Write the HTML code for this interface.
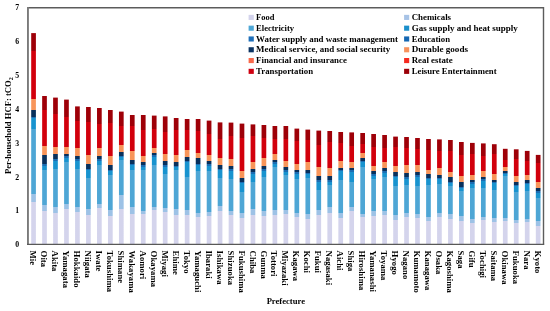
<!DOCTYPE html>
<html><head><meta charset="utf-8"><style>
html,body{margin:0;padding:0;background:#fff;}
body{width:550px;height:311px;overflow:hidden;position:relative;}
svg{position:absolute;left:0;top:0;will-change:transform;filter:blur(0.25px);}
text{font-family:"Liberation Serif",serif;font-weight:bold;fill:#000;}
.xl{font-size:8.75px;}
.yt{font-size:7.8px;text-anchor:end;}
.lg{font-size:8.9px;}
.tt{font-size:8.6px;}
</style></head><body>
<svg width="550" height="311" viewBox="0 0 550 311">
<rect x="0" y="0" width="550" height="311" fill="#fff"/>
<linearGradient id="g0" gradientUnits="userSpaceOnUse" x1="0" y1="33.10" x2="0" y2="244.4"><stop offset="0.00000" stop-color="#9e0008"/><stop offset="0.08282" stop-color="#9e0008"/><stop offset="0.08282" stop-color="#d2000c"/><stop offset="0.31093" stop-color="#d2000c"/><stop offset="0.31093" stop-color="#f8955a"/><stop offset="0.36583" stop-color="#f8955a"/><stop offset="0.36583" stop-color="#08305c"/><stop offset="0.39517" stop-color="#08305c"/><stop offset="0.39517" stop-color="#1a6db3"/><stop offset="0.40227" stop-color="#1a6db3"/><stop offset="0.40227" stop-color="#1893cf"/><stop offset="0.45244" stop-color="#1893cf"/><stop offset="0.45244" stop-color="#4ea6d5"/><stop offset="0.76242" stop-color="#4ea6d5"/><stop offset="0.76242" stop-color="#9dc2e6"/><stop offset="0.79934" stop-color="#9dc2e6"/><stop offset="0.79934" stop-color="#d4d4ec"/><stop offset="1.00000" stop-color="#d4d4ec"/></linearGradient><rect x="31.20" y="33.10" width="4.7" height="211.30" fill="url(#g0)"/><linearGradient id="g1" gradientUnits="userSpaceOnUse" x1="0" y1="96.00" x2="0" y2="244.4"><stop offset="0.00000" stop-color="#9e0008"/><stop offset="0.09434" stop-color="#9e0008"/><stop offset="0.09434" stop-color="#d2000c"/><stop offset="0.33693" stop-color="#d2000c"/><stop offset="0.33693" stop-color="#f8955a"/><stop offset="0.39757" stop-color="#f8955a"/><stop offset="0.39757" stop-color="#08305c"/><stop offset="0.45822" stop-color="#08305c"/><stop offset="0.45822" stop-color="#1a6db3"/><stop offset="0.46833" stop-color="#1a6db3"/><stop offset="0.46833" stop-color="#1893cf"/><stop offset="0.49596" stop-color="#1893cf"/><stop offset="0.49596" stop-color="#4ea6d5"/><stop offset="0.73450" stop-color="#4ea6d5"/><stop offset="0.73450" stop-color="#9dc2e6"/><stop offset="0.77493" stop-color="#9dc2e6"/><stop offset="0.77493" stop-color="#d4d4ec"/><stop offset="1.00000" stop-color="#d4d4ec"/></linearGradient><rect x="42.16" y="96.00" width="4.7" height="148.40" fill="url(#g1)"/><linearGradient id="g2" gradientUnits="userSpaceOnUse" x1="0" y1="97.60" x2="0" y2="244.4"><stop offset="0.00000" stop-color="#9e0008"/><stop offset="0.10899" stop-color="#9e0008"/><stop offset="0.10899" stop-color="#d2000c"/><stop offset="0.33651" stop-color="#d2000c"/><stop offset="0.33651" stop-color="#f8955a"/><stop offset="0.38692" stop-color="#f8955a"/><stop offset="0.38692" stop-color="#08305c"/><stop offset="0.42098" stop-color="#08305c"/><stop offset="0.42098" stop-color="#1a6db3"/><stop offset="0.43120" stop-color="#1a6db3"/><stop offset="0.43120" stop-color="#1893cf"/><stop offset="0.48638" stop-color="#1893cf"/><stop offset="0.48638" stop-color="#4ea6d5"/><stop offset="0.74796" stop-color="#4ea6d5"/><stop offset="0.74796" stop-color="#9dc2e6"/><stop offset="0.78338" stop-color="#9dc2e6"/><stop offset="0.78338" stop-color="#d4d4ec"/><stop offset="1.00000" stop-color="#d4d4ec"/></linearGradient><rect x="53.13" y="97.60" width="4.7" height="146.80" fill="url(#g2)"/><linearGradient id="g3" gradientUnits="userSpaceOnUse" x1="0" y1="99.60" x2="0" y2="244.4"><stop offset="0.00000" stop-color="#9e0008"/><stop offset="0.12017" stop-color="#9e0008"/><stop offset="0.12017" stop-color="#d2000c"/><stop offset="0.32735" stop-color="#d2000c"/><stop offset="0.32735" stop-color="#f8955a"/><stop offset="0.37569" stop-color="#f8955a"/><stop offset="0.37569" stop-color="#08305c"/><stop offset="0.39227" stop-color="#08305c"/><stop offset="0.39227" stop-color="#1a6db3"/><stop offset="0.40262" stop-color="#1a6db3"/><stop offset="0.40262" stop-color="#1893cf"/><stop offset="0.42818" stop-color="#1893cf"/><stop offset="0.42818" stop-color="#4ea6d5"/><stop offset="0.71823" stop-color="#4ea6d5"/><stop offset="0.71823" stop-color="#9dc2e6"/><stop offset="0.75276" stop-color="#9dc2e6"/><stop offset="0.75276" stop-color="#d4d4ec"/><stop offset="1.00000" stop-color="#d4d4ec"/></linearGradient><rect x="64.11" y="99.60" width="4.7" height="144.80" fill="url(#g3)"/><linearGradient id="g4" gradientUnits="userSpaceOnUse" x1="0" y1="106.40" x2="0" y2="244.4"><stop offset="0.00000" stop-color="#9e0008"/><stop offset="0.10580" stop-color="#9e0008"/><stop offset="0.10580" stop-color="#d2000c"/><stop offset="0.30435" stop-color="#d2000c"/><stop offset="0.30435" stop-color="#f8955a"/><stop offset="0.35652" stop-color="#f8955a"/><stop offset="0.35652" stop-color="#08305c"/><stop offset="0.38406" stop-color="#08305c"/><stop offset="0.38406" stop-color="#1a6db3"/><stop offset="0.39493" stop-color="#1a6db3"/><stop offset="0.39493" stop-color="#1893cf"/><stop offset="0.45362" stop-color="#1893cf"/><stop offset="0.45362" stop-color="#4ea6d5"/><stop offset="0.72609" stop-color="#4ea6d5"/><stop offset="0.72609" stop-color="#9dc2e6"/><stop offset="0.76522" stop-color="#9dc2e6"/><stop offset="0.76522" stop-color="#d4d4ec"/><stop offset="1.00000" stop-color="#d4d4ec"/></linearGradient><rect x="75.08" y="106.40" width="4.7" height="138.00" fill="url(#g4)"/><linearGradient id="g5" gradientUnits="userSpaceOnUse" x1="0" y1="107.00" x2="0" y2="244.4"><stop offset="0.00000" stop-color="#9e0008"/><stop offset="0.10917" stop-color="#9e0008"/><stop offset="0.10917" stop-color="#d2000c"/><stop offset="0.34643" stop-color="#d2000c"/><stop offset="0.34643" stop-color="#f8955a"/><stop offset="0.41485" stop-color="#f8955a"/><stop offset="0.41485" stop-color="#08305c"/><stop offset="0.45124" stop-color="#08305c"/><stop offset="0.45124" stop-color="#1a6db3"/><stop offset="0.46215" stop-color="#1a6db3"/><stop offset="0.46215" stop-color="#1893cf"/><stop offset="0.51674" stop-color="#1893cf"/><stop offset="0.51674" stop-color="#4ea6d5"/><stop offset="0.74236" stop-color="#4ea6d5"/><stop offset="0.74236" stop-color="#9dc2e6"/><stop offset="0.78603" stop-color="#9dc2e6"/><stop offset="0.78603" stop-color="#d4d4ec"/><stop offset="1.00000" stop-color="#d4d4ec"/></linearGradient><rect x="86.05" y="107.00" width="4.7" height="137.40" fill="url(#g5)"/><linearGradient id="g6" gradientUnits="userSpaceOnUse" x1="0" y1="108.00" x2="0" y2="244.4"><stop offset="0.00000" stop-color="#9e0008"/><stop offset="0.12023" stop-color="#9e0008"/><stop offset="0.12023" stop-color="#d2000c"/><stop offset="0.29326" stop-color="#d2000c"/><stop offset="0.29326" stop-color="#f8955a"/><stop offset="0.34897" stop-color="#f8955a"/><stop offset="0.34897" stop-color="#08305c"/><stop offset="0.37683" stop-color="#08305c"/><stop offset="0.37683" stop-color="#1a6db3"/><stop offset="0.38783" stop-color="#1a6db3"/><stop offset="0.38783" stop-color="#1893cf"/><stop offset="0.41789" stop-color="#1893cf"/><stop offset="0.41789" stop-color="#4ea6d5"/><stop offset="0.70088" stop-color="#4ea6d5"/><stop offset="0.70088" stop-color="#9dc2e6"/><stop offset="0.73314" stop-color="#9dc2e6"/><stop offset="0.73314" stop-color="#d4d4ec"/><stop offset="1.00000" stop-color="#d4d4ec"/></linearGradient><rect x="97.02" y="108.00" width="4.7" height="136.40" fill="url(#g6)"/><linearGradient id="g7" gradientUnits="userSpaceOnUse" x1="0" y1="110.00" x2="0" y2="244.4"><stop offset="0.00000" stop-color="#9e0008"/><stop offset="0.09673" stop-color="#9e0008"/><stop offset="0.09673" stop-color="#d2000c"/><stop offset="0.33929" stop-color="#d2000c"/><stop offset="0.33929" stop-color="#f8955a"/><stop offset="0.40923" stop-color="#f8955a"/><stop offset="0.40923" stop-color="#08305c"/><stop offset="0.44345" stop-color="#08305c"/><stop offset="0.44345" stop-color="#1a6db3"/><stop offset="0.45461" stop-color="#1a6db3"/><stop offset="0.45461" stop-color="#1893cf"/><stop offset="0.48363" stop-color="#1893cf"/><stop offset="0.48363" stop-color="#4ea6d5"/><stop offset="0.74405" stop-color="#4ea6d5"/><stop offset="0.74405" stop-color="#9dc2e6"/><stop offset="0.78869" stop-color="#9dc2e6"/><stop offset="0.78869" stop-color="#d4d4ec"/><stop offset="1.00000" stop-color="#d4d4ec"/></linearGradient><rect x="107.99" y="110.00" width="4.7" height="134.40" fill="url(#g7)"/><linearGradient id="g8" gradientUnits="userSpaceOnUse" x1="0" y1="111.60" x2="0" y2="244.4"><stop offset="0.00000" stop-color="#9e0008"/><stop offset="0.10542" stop-color="#9e0008"/><stop offset="0.10542" stop-color="#d2000c"/><stop offset="0.25151" stop-color="#d2000c"/><stop offset="0.25151" stop-color="#f8955a"/><stop offset="0.30422" stop-color="#f8955a"/><stop offset="0.30422" stop-color="#08305c"/><stop offset="0.33133" stop-color="#08305c"/><stop offset="0.33133" stop-color="#1a6db3"/><stop offset="0.34127" stop-color="#1a6db3"/><stop offset="0.34127" stop-color="#1893cf"/><stop offset="0.36446" stop-color="#1893cf"/><stop offset="0.36446" stop-color="#4ea6d5"/><stop offset="0.62801" stop-color="#4ea6d5"/><stop offset="0.62801" stop-color="#9dc2e6"/><stop offset="0.73343" stop-color="#9dc2e6"/><stop offset="0.73343" stop-color="#d4d4ec"/><stop offset="1.00000" stop-color="#d4d4ec"/></linearGradient><rect x="118.96" y="111.60" width="4.7" height="132.80" fill="url(#g8)"/><linearGradient id="g9" gradientUnits="userSpaceOnUse" x1="0" y1="115.00" x2="0" y2="244.4"><stop offset="0.00000" stop-color="#9e0008"/><stop offset="0.08810" stop-color="#9e0008"/><stop offset="0.08810" stop-color="#d2000c"/><stop offset="0.27821" stop-color="#d2000c"/><stop offset="0.27821" stop-color="#f8955a"/><stop offset="0.34776" stop-color="#f8955a"/><stop offset="0.34776" stop-color="#08305c"/><stop offset="0.37867" stop-color="#08305c"/><stop offset="0.37867" stop-color="#1a6db3"/><stop offset="0.39026" stop-color="#1a6db3"/><stop offset="0.39026" stop-color="#1893cf"/><stop offset="0.42504" stop-color="#1893cf"/><stop offset="0.42504" stop-color="#4ea6d5"/><stop offset="0.71406" stop-color="#4ea6d5"/><stop offset="0.71406" stop-color="#9dc2e6"/><stop offset="0.76507" stop-color="#9dc2e6"/><stop offset="0.76507" stop-color="#d4d4ec"/><stop offset="1.00000" stop-color="#d4d4ec"/></linearGradient><rect x="129.93" y="115.00" width="4.7" height="129.40" fill="url(#g9)"/><linearGradient id="g10" gradientUnits="userSpaceOnUse" x1="0" y1="115.00" x2="0" y2="244.4"><stop offset="0.00000" stop-color="#9e0008"/><stop offset="0.11283" stop-color="#9e0008"/><stop offset="0.11283" stop-color="#d2000c"/><stop offset="0.31685" stop-color="#d2000c"/><stop offset="0.31685" stop-color="#f8955a"/><stop offset="0.36321" stop-color="#f8955a"/><stop offset="0.36321" stop-color="#08305c"/><stop offset="0.38949" stop-color="#08305c"/><stop offset="0.38949" stop-color="#1a6db3"/><stop offset="0.40015" stop-color="#1a6db3"/><stop offset="0.40015" stop-color="#1893cf"/><stop offset="0.42504" stop-color="#1893cf"/><stop offset="0.42504" stop-color="#4ea6d5"/><stop offset="0.73879" stop-color="#4ea6d5"/><stop offset="0.73879" stop-color="#9dc2e6"/><stop offset="0.76507" stop-color="#9dc2e6"/><stop offset="0.76507" stop-color="#d4d4ec"/><stop offset="1.00000" stop-color="#d4d4ec"/></linearGradient><rect x="140.90" y="115.00" width="4.7" height="129.40" fill="url(#g10)"/><linearGradient id="g11" gradientUnits="userSpaceOnUse" x1="0" y1="115.60" x2="0" y2="244.4"><stop offset="0.00000" stop-color="#9e0008"/><stop offset="0.10404" stop-color="#9e0008"/><stop offset="0.10404" stop-color="#d2000c"/><stop offset="0.24845" stop-color="#d2000c"/><stop offset="0.24845" stop-color="#f8955a"/><stop offset="0.28727" stop-color="#f8955a"/><stop offset="0.28727" stop-color="#08305c"/><stop offset="0.30901" stop-color="#08305c"/><stop offset="0.30901" stop-color="#1a6db3"/><stop offset="0.32065" stop-color="#1a6db3"/><stop offset="0.32065" stop-color="#1893cf"/><stop offset="0.38043" stop-color="#1893cf"/><stop offset="0.38043" stop-color="#4ea6d5"/><stop offset="0.70963" stop-color="#4ea6d5"/><stop offset="0.70963" stop-color="#9dc2e6"/><stop offset="0.73292" stop-color="#9dc2e6"/><stop offset="0.73292" stop-color="#d4d4ec"/><stop offset="1.00000" stop-color="#d4d4ec"/></linearGradient><rect x="151.87" y="115.60" width="4.7" height="128.80" fill="url(#g11)"/><linearGradient id="g12" gradientUnits="userSpaceOnUse" x1="0" y1="116.40" x2="0" y2="244.4"><stop offset="0.00000" stop-color="#9e0008"/><stop offset="0.11875" stop-color="#9e0008"/><stop offset="0.11875" stop-color="#d2000c"/><stop offset="0.29375" stop-color="#d2000c"/><stop offset="0.29375" stop-color="#f8955a"/><stop offset="0.34844" stop-color="#f8955a"/><stop offset="0.34844" stop-color="#08305c"/><stop offset="0.37969" stop-color="#08305c"/><stop offset="0.37969" stop-color="#1a6db3"/><stop offset="0.39141" stop-color="#1a6db3"/><stop offset="0.39141" stop-color="#1893cf"/><stop offset="0.45000" stop-color="#1893cf"/><stop offset="0.45000" stop-color="#4ea6d5"/><stop offset="0.71562" stop-color="#4ea6d5"/><stop offset="0.71562" stop-color="#9dc2e6"/><stop offset="0.74687" stop-color="#9dc2e6"/><stop offset="0.74687" stop-color="#d4d4ec"/><stop offset="1.00000" stop-color="#d4d4ec"/></linearGradient><rect x="162.84" y="116.40" width="4.7" height="128.00" fill="url(#g12)"/><linearGradient id="g13" gradientUnits="userSpaceOnUse" x1="0" y1="118.00" x2="0" y2="244.4"><stop offset="0.00000" stop-color="#9e0008"/><stop offset="0.09810" stop-color="#9e0008"/><stop offset="0.09810" stop-color="#d2000c"/><stop offset="0.29272" stop-color="#d2000c"/><stop offset="0.29272" stop-color="#f8955a"/><stop offset="0.34810" stop-color="#f8955a"/><stop offset="0.34810" stop-color="#08305c"/><stop offset="0.37975" stop-color="#08305c"/><stop offset="0.37975" stop-color="#1a6db3"/><stop offset="0.38924" stop-color="#1a6db3"/><stop offset="0.38924" stop-color="#1893cf"/><stop offset="0.41139" stop-color="#1893cf"/><stop offset="0.41139" stop-color="#4ea6d5"/><stop offset="0.72310" stop-color="#4ea6d5"/><stop offset="0.72310" stop-color="#9dc2e6"/><stop offset="0.76424" stop-color="#9dc2e6"/><stop offset="0.76424" stop-color="#d4d4ec"/><stop offset="1.00000" stop-color="#d4d4ec"/></linearGradient><rect x="173.81" y="118.00" width="4.7" height="126.40" fill="url(#g13)"/><linearGradient id="g14" gradientUnits="userSpaceOnUse" x1="0" y1="119.00" x2="0" y2="244.4"><stop offset="0.00000" stop-color="#9e0008"/><stop offset="0.09091" stop-color="#9e0008"/><stop offset="0.09091" stop-color="#d2000c"/><stop offset="0.24721" stop-color="#d2000c"/><stop offset="0.24721" stop-color="#f8955a"/><stop offset="0.30303" stop-color="#f8955a"/><stop offset="0.30303" stop-color="#08305c"/><stop offset="0.33174" stop-color="#08305c"/><stop offset="0.33174" stop-color="#1a6db3"/><stop offset="0.34370" stop-color="#1a6db3"/><stop offset="0.34370" stop-color="#1893cf"/><stop offset="0.46252" stop-color="#1893cf"/><stop offset="0.46252" stop-color="#4ea6d5"/><stop offset="0.72568" stop-color="#4ea6d5"/><stop offset="0.72568" stop-color="#9dc2e6"/><stop offset="0.76555" stop-color="#9dc2e6"/><stop offset="0.76555" stop-color="#d4d4ec"/><stop offset="1.00000" stop-color="#d4d4ec"/></linearGradient><rect x="184.78" y="119.00" width="4.7" height="125.40" fill="url(#g14)"/><linearGradient id="g15" gradientUnits="userSpaceOnUse" x1="0" y1="119.00" x2="0" y2="244.4"><stop offset="0.00000" stop-color="#9e0008"/><stop offset="0.09569" stop-color="#9e0008"/><stop offset="0.09569" stop-color="#d2000c"/><stop offset="0.27113" stop-color="#d2000c"/><stop offset="0.27113" stop-color="#f8955a"/><stop offset="0.31100" stop-color="#f8955a"/><stop offset="0.31100" stop-color="#08305c"/><stop offset="0.35885" stop-color="#08305c"/><stop offset="0.35885" stop-color="#1a6db3"/><stop offset="0.37081" stop-color="#1a6db3"/><stop offset="0.37081" stop-color="#1893cf"/><stop offset="0.41467" stop-color="#1893cf"/><stop offset="0.41467" stop-color="#4ea6d5"/><stop offset="0.74960" stop-color="#4ea6d5"/><stop offset="0.74960" stop-color="#9dc2e6"/><stop offset="0.77831" stop-color="#9dc2e6"/><stop offset="0.77831" stop-color="#d4d4ec"/><stop offset="1.00000" stop-color="#d4d4ec"/></linearGradient><rect x="195.75" y="119.00" width="4.7" height="125.40" fill="url(#g15)"/><linearGradient id="g16" gradientUnits="userSpaceOnUse" x1="0" y1="120.60" x2="0" y2="244.4"><stop offset="0.00000" stop-color="#9e0008"/><stop offset="0.10501" stop-color="#9e0008"/><stop offset="0.10501" stop-color="#d2000c"/><stop offset="0.27464" stop-color="#d2000c"/><stop offset="0.27464" stop-color="#f8955a"/><stop offset="0.32633" stop-color="#f8955a"/><stop offset="0.32633" stop-color="#08305c"/><stop offset="0.35380" stop-color="#08305c"/><stop offset="0.35380" stop-color="#1a6db3"/><stop offset="0.36591" stop-color="#1a6db3"/><stop offset="0.36591" stop-color="#1893cf"/><stop offset="0.40711" stop-color="#1893cf"/><stop offset="0.40711" stop-color="#4ea6d5"/><stop offset="0.73506" stop-color="#4ea6d5"/><stop offset="0.73506" stop-color="#9dc2e6"/><stop offset="0.77060" stop-color="#9dc2e6"/><stop offset="0.77060" stop-color="#d4d4ec"/><stop offset="1.00000" stop-color="#d4d4ec"/></linearGradient><rect x="206.72" y="120.60" width="4.7" height="123.80" fill="url(#g16)"/><linearGradient id="g17" gradientUnits="userSpaceOnUse" x1="0" y1="122.40" x2="0" y2="244.4"><stop offset="0.00000" stop-color="#9e0008"/><stop offset="0.13607" stop-color="#9e0008"/><stop offset="0.13607" stop-color="#d2000c"/><stop offset="0.29180" stop-color="#d2000c"/><stop offset="0.29180" stop-color="#f8955a"/><stop offset="0.34918" stop-color="#f8955a"/><stop offset="0.34918" stop-color="#08305c"/><stop offset="0.38197" stop-color="#08305c"/><stop offset="0.38197" stop-color="#1a6db3"/><stop offset="0.39426" stop-color="#1a6db3"/><stop offset="0.39426" stop-color="#1893cf"/><stop offset="0.45574" stop-color="#1893cf"/><stop offset="0.45574" stop-color="#4ea6d5"/><stop offset="0.68197" stop-color="#4ea6d5"/><stop offset="0.68197" stop-color="#9dc2e6"/><stop offset="0.72295" stop-color="#9dc2e6"/><stop offset="0.72295" stop-color="#d4d4ec"/><stop offset="1.00000" stop-color="#d4d4ec"/></linearGradient><rect x="217.69" y="122.40" width="4.7" height="122.00" fill="url(#g17)"/><linearGradient id="g18" gradientUnits="userSpaceOnUse" x1="0" y1="122.60" x2="0" y2="244.4"><stop offset="0.00000" stop-color="#9e0008"/><stop offset="0.11330" stop-color="#9e0008"/><stop offset="0.11330" stop-color="#d2000c"/><stop offset="0.30213" stop-color="#d2000c"/><stop offset="0.30213" stop-color="#f8955a"/><stop offset="0.35632" stop-color="#f8955a"/><stop offset="0.35632" stop-color="#08305c"/><stop offset="0.38424" stop-color="#08305c"/><stop offset="0.38424" stop-color="#1a6db3"/><stop offset="0.39655" stop-color="#1a6db3"/><stop offset="0.39655" stop-color="#1893cf"/><stop offset="0.46305" stop-color="#1893cf"/><stop offset="0.46305" stop-color="#4ea6d5"/><stop offset="0.72250" stop-color="#4ea6d5"/><stop offset="0.72250" stop-color="#9dc2e6"/><stop offset="0.76190" stop-color="#9dc2e6"/><stop offset="0.76190" stop-color="#d4d4ec"/><stop offset="1.00000" stop-color="#d4d4ec"/></linearGradient><rect x="228.66" y="122.60" width="4.7" height="121.80" fill="url(#g18)"/><linearGradient id="g19" gradientUnits="userSpaceOnUse" x1="0" y1="123.60" x2="0" y2="244.4"><stop offset="0.00000" stop-color="#9e0008"/><stop offset="0.12252" stop-color="#9e0008"/><stop offset="0.12252" stop-color="#d2000c"/><stop offset="0.39238" stop-color="#d2000c"/><stop offset="0.39238" stop-color="#f8955a"/><stop offset="0.45033" stop-color="#f8955a"/><stop offset="0.45033" stop-color="#08305c"/><stop offset="0.48344" stop-color="#08305c"/><stop offset="0.48344" stop-color="#1a6db3"/><stop offset="0.49586" stop-color="#1a6db3"/><stop offset="0.49586" stop-color="#1893cf"/><stop offset="0.56623" stop-color="#1893cf"/><stop offset="0.56623" stop-color="#4ea6d5"/><stop offset="0.73675" stop-color="#4ea6d5"/><stop offset="0.73675" stop-color="#9dc2e6"/><stop offset="0.78146" stop-color="#9dc2e6"/><stop offset="0.78146" stop-color="#d4d4ec"/><stop offset="1.00000" stop-color="#d4d4ec"/></linearGradient><rect x="239.63" y="123.60" width="4.7" height="120.80" fill="url(#g19)"/><linearGradient id="g20" gradientUnits="userSpaceOnUse" x1="0" y1="124.40" x2="0" y2="244.4"><stop offset="0.00000" stop-color="#9e0008"/><stop offset="0.10000" stop-color="#9e0008"/><stop offset="0.10000" stop-color="#d2000c"/><stop offset="0.31000" stop-color="#d2000c"/><stop offset="0.31000" stop-color="#f8955a"/><stop offset="0.36833" stop-color="#f8955a"/><stop offset="0.36833" stop-color="#08305c"/><stop offset="0.39667" stop-color="#08305c"/><stop offset="0.39667" stop-color="#1a6db3"/><stop offset="0.40917" stop-color="#1a6db3"/><stop offset="0.40917" stop-color="#1893cf"/><stop offset="0.48000" stop-color="#1893cf"/><stop offset="0.48000" stop-color="#4ea6d5"/><stop offset="0.70500" stop-color="#4ea6d5"/><stop offset="0.70500" stop-color="#9dc2e6"/><stop offset="0.75500" stop-color="#9dc2e6"/><stop offset="0.75500" stop-color="#d4d4ec"/><stop offset="1.00000" stop-color="#d4d4ec"/></linearGradient><rect x="250.60" y="124.40" width="4.7" height="120.00" fill="url(#g20)"/><linearGradient id="g21" gradientUnits="userSpaceOnUse" x1="0" y1="125.00" x2="0" y2="244.4"><stop offset="0.00000" stop-color="#9e0008"/><stop offset="0.10553" stop-color="#9e0008"/><stop offset="0.10553" stop-color="#d2000c"/><stop offset="0.27638" stop-color="#d2000c"/><stop offset="0.27638" stop-color="#f8955a"/><stop offset="0.34673" stop-color="#f8955a"/><stop offset="0.34673" stop-color="#08305c"/><stop offset="0.37186" stop-color="#08305c"/><stop offset="0.37186" stop-color="#1a6db3"/><stop offset="0.38442" stop-color="#1a6db3"/><stop offset="0.38442" stop-color="#1893cf"/><stop offset="0.43551" stop-color="#1893cf"/><stop offset="0.43551" stop-color="#4ea6d5"/><stop offset="0.72027" stop-color="#4ea6d5"/><stop offset="0.72027" stop-color="#9dc2e6"/><stop offset="0.76214" stop-color="#9dc2e6"/><stop offset="0.76214" stop-color="#d4d4ec"/><stop offset="1.00000" stop-color="#d4d4ec"/></linearGradient><rect x="261.56" y="125.00" width="4.7" height="119.40" fill="url(#g21)"/><linearGradient id="g22" gradientUnits="userSpaceOnUse" x1="0" y1="126.00" x2="0" y2="244.4"><stop offset="0.00000" stop-color="#9e0008"/><stop offset="0.10980" stop-color="#9e0008"/><stop offset="0.10980" stop-color="#d2000c"/><stop offset="0.23311" stop-color="#d2000c"/><stop offset="0.23311" stop-color="#f8955a"/><stop offset="0.28378" stop-color="#f8955a"/><stop offset="0.28378" stop-color="#08305c"/><stop offset="0.30743" stop-color="#08305c"/><stop offset="0.30743" stop-color="#1a6db3"/><stop offset="0.31909" stop-color="#1a6db3"/><stop offset="0.31909" stop-color="#1893cf"/><stop offset="0.34628" stop-color="#1893cf"/><stop offset="0.34628" stop-color="#4ea6d5"/><stop offset="0.70946" stop-color="#4ea6d5"/><stop offset="0.70946" stop-color="#9dc2e6"/><stop offset="0.74831" stop-color="#9dc2e6"/><stop offset="0.74831" stop-color="#d4d4ec"/><stop offset="1.00000" stop-color="#d4d4ec"/></linearGradient><rect x="272.53" y="126.00" width="4.7" height="118.40" fill="url(#g22)"/><linearGradient id="g23" gradientUnits="userSpaceOnUse" x1="0" y1="126.00" x2="0" y2="244.4"><stop offset="0.00000" stop-color="#9e0008"/><stop offset="0.10980" stop-color="#9e0008"/><stop offset="0.10980" stop-color="#d2000c"/><stop offset="0.29561" stop-color="#d2000c"/><stop offset="0.29561" stop-color="#f8955a"/><stop offset="0.34628" stop-color="#f8955a"/><stop offset="0.34628" stop-color="#08305c"/><stop offset="0.37500" stop-color="#08305c"/><stop offset="0.37500" stop-color="#1a6db3"/><stop offset="0.38666" stop-color="#1a6db3"/><stop offset="0.38666" stop-color="#1893cf"/><stop offset="0.41385" stop-color="#1893cf"/><stop offset="0.41385" stop-color="#4ea6d5"/><stop offset="0.70946" stop-color="#4ea6d5"/><stop offset="0.70946" stop-color="#9dc2e6"/><stop offset="0.74324" stop-color="#9dc2e6"/><stop offset="0.74324" stop-color="#d4d4ec"/><stop offset="1.00000" stop-color="#d4d4ec"/></linearGradient><rect x="283.50" y="126.00" width="4.7" height="118.40" fill="url(#g23)"/><linearGradient id="g24" gradientUnits="userSpaceOnUse" x1="0" y1="128.60" x2="0" y2="244.4"><stop offset="0.00000" stop-color="#9e0008"/><stop offset="0.10363" stop-color="#9e0008"/><stop offset="0.10363" stop-color="#d2000c"/><stop offset="0.30225" stop-color="#d2000c"/><stop offset="0.30225" stop-color="#f8955a"/><stop offset="0.35406" stop-color="#f8955a"/><stop offset="0.35406" stop-color="#08305c"/><stop offset="0.37824" stop-color="#08305c"/><stop offset="0.37824" stop-color="#1a6db3"/><stop offset="0.39119" stop-color="#1a6db3"/><stop offset="0.39119" stop-color="#1893cf"/><stop offset="0.43523" stop-color="#1893cf"/><stop offset="0.43523" stop-color="#4ea6d5"/><stop offset="0.72884" stop-color="#4ea6d5"/><stop offset="0.72884" stop-color="#9dc2e6"/><stop offset="0.76684" stop-color="#9dc2e6"/><stop offset="0.76684" stop-color="#d4d4ec"/><stop offset="1.00000" stop-color="#d4d4ec"/></linearGradient><rect x="294.48" y="128.60" width="4.7" height="115.80" fill="url(#g24)"/><linearGradient id="g25" gradientUnits="userSpaceOnUse" x1="0" y1="129.60" x2="0" y2="244.4"><stop offset="0.00000" stop-color="#9e0008"/><stop offset="0.09059" stop-color="#9e0008"/><stop offset="0.09059" stop-color="#d2000c"/><stop offset="0.28571" stop-color="#d2000c"/><stop offset="0.28571" stop-color="#f8955a"/><stop offset="0.35192" stop-color="#f8955a"/><stop offset="0.35192" stop-color="#08305c"/><stop offset="0.37805" stop-color="#08305c"/><stop offset="0.37805" stop-color="#1a6db3"/><stop offset="0.39111" stop-color="#1a6db3"/><stop offset="0.39111" stop-color="#1893cf"/><stop offset="0.42160" stop-color="#1893cf"/><stop offset="0.42160" stop-color="#4ea6d5"/><stop offset="0.73171" stop-color="#4ea6d5"/><stop offset="0.73171" stop-color="#9dc2e6"/><stop offset="0.77526" stop-color="#9dc2e6"/><stop offset="0.77526" stop-color="#d4d4ec"/><stop offset="1.00000" stop-color="#d4d4ec"/></linearGradient><rect x="305.44" y="129.60" width="4.7" height="114.80" fill="url(#g25)"/><linearGradient id="g26" gradientUnits="userSpaceOnUse" x1="0" y1="130.60" x2="0" y2="244.4"><stop offset="0.00000" stop-color="#9e0008"/><stop offset="0.12654" stop-color="#9e0008"/><stop offset="0.12654" stop-color="#d2000c"/><stop offset="0.31986" stop-color="#d2000c"/><stop offset="0.31986" stop-color="#f8955a"/><stop offset="0.39895" stop-color="#f8955a"/><stop offset="0.39895" stop-color="#08305c"/><stop offset="0.43409" stop-color="#08305c"/><stop offset="0.43409" stop-color="#1a6db3"/><stop offset="0.44728" stop-color="#1a6db3"/><stop offset="0.44728" stop-color="#1893cf"/><stop offset="0.51845" stop-color="#1893cf"/><stop offset="0.51845" stop-color="#4ea6d5"/><stop offset="0.69772" stop-color="#4ea6d5"/><stop offset="0.69772" stop-color="#9dc2e6"/><stop offset="0.74517" stop-color="#9dc2e6"/><stop offset="0.74517" stop-color="#d4d4ec"/><stop offset="1.00000" stop-color="#d4d4ec"/></linearGradient><rect x="316.42" y="130.60" width="4.7" height="113.80" fill="url(#g26)"/><linearGradient id="g27" gradientUnits="userSpaceOnUse" x1="0" y1="131.00" x2="0" y2="244.4"><stop offset="0.00000" stop-color="#9e0008"/><stop offset="0.10053" stop-color="#9e0008"/><stop offset="0.10053" stop-color="#d2000c"/><stop offset="0.32628" stop-color="#d2000c"/><stop offset="0.32628" stop-color="#f8955a"/><stop offset="0.39683" stop-color="#f8955a"/><stop offset="0.39683" stop-color="#08305c"/><stop offset="0.43563" stop-color="#08305c"/><stop offset="0.43563" stop-color="#1a6db3"/><stop offset="0.44780" stop-color="#1a6db3"/><stop offset="0.44780" stop-color="#1893cf"/><stop offset="0.47619" stop-color="#1893cf"/><stop offset="0.47619" stop-color="#4ea6d5"/><stop offset="0.66667" stop-color="#4ea6d5"/><stop offset="0.66667" stop-color="#9dc2e6"/><stop offset="0.72310" stop-color="#9dc2e6"/><stop offset="0.72310" stop-color="#d4d4ec"/><stop offset="1.00000" stop-color="#d4d4ec"/></linearGradient><rect x="327.38" y="131.00" width="4.7" height="113.40" fill="url(#g27)"/><linearGradient id="g28" gradientUnits="userSpaceOnUse" x1="0" y1="132.00" x2="0" y2="244.4"><stop offset="0.00000" stop-color="#9e0008"/><stop offset="0.09786" stop-color="#9e0008"/><stop offset="0.09786" stop-color="#d2000c"/><stop offset="0.25801" stop-color="#d2000c"/><stop offset="0.25801" stop-color="#f8955a"/><stop offset="0.31673" stop-color="#f8955a"/><stop offset="0.31673" stop-color="#08305c"/><stop offset="0.33808" stop-color="#08305c"/><stop offset="0.33808" stop-color="#1a6db3"/><stop offset="0.35142" stop-color="#1a6db3"/><stop offset="0.35142" stop-color="#1893cf"/><stop offset="0.42349" stop-color="#1893cf"/><stop offset="0.42349" stop-color="#4ea6d5"/><stop offset="0.72420" stop-color="#4ea6d5"/><stop offset="0.72420" stop-color="#9dc2e6"/><stop offset="0.76157" stop-color="#9dc2e6"/><stop offset="0.76157" stop-color="#d4d4ec"/><stop offset="1.00000" stop-color="#d4d4ec"/></linearGradient><rect x="338.36" y="132.00" width="4.7" height="112.40" fill="url(#g28)"/><linearGradient id="g29" gradientUnits="userSpaceOnUse" x1="0" y1="132.40" x2="0" y2="244.4"><stop offset="0.00000" stop-color="#9e0008"/><stop offset="0.12500" stop-color="#9e0008"/><stop offset="0.12500" stop-color="#d2000c"/><stop offset="0.26071" stop-color="#d2000c"/><stop offset="0.26071" stop-color="#f8955a"/><stop offset="0.31429" stop-color="#f8955a"/><stop offset="0.31429" stop-color="#08305c"/><stop offset="0.33929" stop-color="#08305c"/><stop offset="0.33929" stop-color="#1a6db3"/><stop offset="0.35268" stop-color="#1a6db3"/><stop offset="0.35268" stop-color="#1893cf"/><stop offset="0.44643" stop-color="#1893cf"/><stop offset="0.44643" stop-color="#4ea6d5"/><stop offset="0.66607" stop-color="#4ea6d5"/><stop offset="0.66607" stop-color="#9dc2e6"/><stop offset="0.70179" stop-color="#9dc2e6"/><stop offset="0.70179" stop-color="#d4d4ec"/><stop offset="1.00000" stop-color="#d4d4ec"/></linearGradient><rect x="349.32" y="132.40" width="4.7" height="112.00" fill="url(#g29)"/><linearGradient id="g30" gradientUnits="userSpaceOnUse" x1="0" y1="133.00" x2="0" y2="244.4"><stop offset="0.00000" stop-color="#9e0008"/><stop offset="0.09874" stop-color="#9e0008"/><stop offset="0.09874" stop-color="#d2000c"/><stop offset="0.17953" stop-color="#d2000c"/><stop offset="0.17953" stop-color="#f8955a"/><stop offset="0.22801" stop-color="#f8955a"/><stop offset="0.22801" stop-color="#08305c"/><stop offset="0.25135" stop-color="#08305c"/><stop offset="0.25135" stop-color="#1a6db3"/><stop offset="0.26481" stop-color="#1a6db3"/><stop offset="0.26481" stop-color="#1893cf"/><stop offset="0.30521" stop-color="#1893cf"/><stop offset="0.30521" stop-color="#4ea6d5"/><stop offset="0.72711" stop-color="#4ea6d5"/><stop offset="0.72711" stop-color="#9dc2e6"/><stop offset="0.75763" stop-color="#9dc2e6"/><stop offset="0.75763" stop-color="#d4d4ec"/><stop offset="1.00000" stop-color="#d4d4ec"/></linearGradient><rect x="360.30" y="133.00" width="4.7" height="111.40" fill="url(#g30)"/><linearGradient id="g31" gradientUnits="userSpaceOnUse" x1="0" y1="134.00" x2="0" y2="244.4"><stop offset="0.00000" stop-color="#9e0008"/><stop offset="0.12138" stop-color="#9e0008"/><stop offset="0.12138" stop-color="#d2000c"/><stop offset="0.28986" stop-color="#d2000c"/><stop offset="0.28986" stop-color="#f8955a"/><stop offset="0.33152" stop-color="#f8955a"/><stop offset="0.33152" stop-color="#08305c"/><stop offset="0.36594" stop-color="#08305c"/><stop offset="0.36594" stop-color="#1a6db3"/><stop offset="0.37844" stop-color="#1a6db3"/><stop offset="0.37844" stop-color="#1893cf"/><stop offset="0.40761" stop-color="#1893cf"/><stop offset="0.40761" stop-color="#4ea6d5"/><stop offset="0.70109" stop-color="#4ea6d5"/><stop offset="0.70109" stop-color="#9dc2e6"/><stop offset="0.74275" stop-color="#9dc2e6"/><stop offset="0.74275" stop-color="#d4d4ec"/><stop offset="1.00000" stop-color="#d4d4ec"/></linearGradient><rect x="371.26" y="134.00" width="4.7" height="110.40" fill="url(#g31)"/><linearGradient id="g32" gradientUnits="userSpaceOnUse" x1="0" y1="135.00" x2="0" y2="244.4"><stop offset="0.00000" stop-color="#9e0008"/><stop offset="0.11883" stop-color="#9e0008"/><stop offset="0.11883" stop-color="#d2000c"/><stop offset="0.25046" stop-color="#d2000c"/><stop offset="0.25046" stop-color="#f8955a"/><stop offset="0.29799" stop-color="#f8955a"/><stop offset="0.29799" stop-color="#08305c"/><stop offset="0.32907" stop-color="#08305c"/><stop offset="0.32907" stop-color="#1a6db3"/><stop offset="0.34278" stop-color="#1a6db3"/><stop offset="0.34278" stop-color="#1893cf"/><stop offset="0.38391" stop-color="#1893cf"/><stop offset="0.38391" stop-color="#4ea6d5"/><stop offset="0.69835" stop-color="#4ea6d5"/><stop offset="0.69835" stop-color="#9dc2e6"/><stop offset="0.73492" stop-color="#9dc2e6"/><stop offset="0.73492" stop-color="#d4d4ec"/><stop offset="1.00000" stop-color="#d4d4ec"/></linearGradient><rect x="382.24" y="135.00" width="4.7" height="109.40" fill="url(#g32)"/><linearGradient id="g33" gradientUnits="userSpaceOnUse" x1="0" y1="136.60" x2="0" y2="244.4"><stop offset="0.00000" stop-color="#9e0008"/><stop offset="0.10019" stop-color="#9e0008"/><stop offset="0.10019" stop-color="#d2000c"/><stop offset="0.27644" stop-color="#d2000c"/><stop offset="0.27644" stop-color="#f8955a"/><stop offset="0.33210" stop-color="#f8955a"/><stop offset="0.33210" stop-color="#08305c"/><stop offset="0.36178" stop-color="#08305c"/><stop offset="0.36178" stop-color="#1a6db3"/><stop offset="0.37570" stop-color="#1a6db3"/><stop offset="0.37570" stop-color="#1893cf"/><stop offset="0.45826" stop-color="#1893cf"/><stop offset="0.45826" stop-color="#4ea6d5"/><stop offset="0.73098" stop-color="#4ea6d5"/><stop offset="0.73098" stop-color="#9dc2e6"/><stop offset="0.77365" stop-color="#9dc2e6"/><stop offset="0.77365" stop-color="#d4d4ec"/><stop offset="1.00000" stop-color="#d4d4ec"/></linearGradient><rect x="393.20" y="136.60" width="4.7" height="107.80" fill="url(#g33)"/><linearGradient id="g34" gradientUnits="userSpaceOnUse" x1="0" y1="137.00" x2="0" y2="244.4"><stop offset="0.00000" stop-color="#9e0008"/><stop offset="0.10242" stop-color="#9e0008"/><stop offset="0.10242" stop-color="#d2000c"/><stop offset="0.26071" stop-color="#d2000c"/><stop offset="0.26071" stop-color="#f8955a"/><stop offset="0.33520" stop-color="#f8955a"/><stop offset="0.33520" stop-color="#08305c"/><stop offset="0.37244" stop-color="#08305c"/><stop offset="0.37244" stop-color="#1a6db3"/><stop offset="0.38641" stop-color="#1a6db3"/><stop offset="0.38641" stop-color="#1893cf"/><stop offset="0.44693" stop-color="#1893cf"/><stop offset="0.44693" stop-color="#4ea6d5"/><stop offset="0.70391" stop-color="#4ea6d5"/><stop offset="0.70391" stop-color="#9dc2e6"/><stop offset="0.74860" stop-color="#9dc2e6"/><stop offset="0.74860" stop-color="#d4d4ec"/><stop offset="1.00000" stop-color="#d4d4ec"/></linearGradient><rect x="404.18" y="137.00" width="4.7" height="107.40" fill="url(#g34)"/><linearGradient id="g35" gradientUnits="userSpaceOnUse" x1="0" y1="138.00" x2="0" y2="244.4"><stop offset="0.00000" stop-color="#9e0008"/><stop offset="0.10714" stop-color="#9e0008"/><stop offset="0.10714" stop-color="#d2000c"/><stop offset="0.25376" stop-color="#d2000c"/><stop offset="0.25376" stop-color="#f8955a"/><stop offset="0.31579" stop-color="#f8955a"/><stop offset="0.31579" stop-color="#08305c"/><stop offset="0.34962" stop-color="#08305c"/><stop offset="0.34962" stop-color="#1a6db3"/><stop offset="0.36372" stop-color="#1a6db3"/><stop offset="0.36372" stop-color="#1893cf"/><stop offset="0.44737" stop-color="#1893cf"/><stop offset="0.44737" stop-color="#4ea6d5"/><stop offset="0.71429" stop-color="#4ea6d5"/><stop offset="0.71429" stop-color="#9dc2e6"/><stop offset="0.75188" stop-color="#9dc2e6"/><stop offset="0.75188" stop-color="#d4d4ec"/><stop offset="1.00000" stop-color="#d4d4ec"/></linearGradient><rect x="415.14" y="138.00" width="4.7" height="106.40" fill="url(#g35)"/><linearGradient id="g36" gradientUnits="userSpaceOnUse" x1="0" y1="139.00" x2="0" y2="244.4"><stop offset="0.00000" stop-color="#9e0008"/><stop offset="0.10436" stop-color="#9e0008"/><stop offset="0.10436" stop-color="#d2000c"/><stop offset="0.29412" stop-color="#d2000c"/><stop offset="0.29412" stop-color="#f8955a"/><stop offset="0.33586" stop-color="#f8955a"/><stop offset="0.33586" stop-color="#08305c"/><stop offset="0.36622" stop-color="#08305c"/><stop offset="0.36622" stop-color="#1a6db3"/><stop offset="0.38046" stop-color="#1a6db3"/><stop offset="0.38046" stop-color="#1893cf"/><stop offset="0.43643" stop-color="#1893cf"/><stop offset="0.43643" stop-color="#4ea6d5"/><stop offset="0.74004" stop-color="#4ea6d5"/><stop offset="0.74004" stop-color="#9dc2e6"/><stop offset="0.77419" stop-color="#9dc2e6"/><stop offset="0.77419" stop-color="#d4d4ec"/><stop offset="1.00000" stop-color="#d4d4ec"/></linearGradient><rect x="426.12" y="139.00" width="4.7" height="105.40" fill="url(#g36)"/><linearGradient id="g37" gradientUnits="userSpaceOnUse" x1="0" y1="139.40" x2="0" y2="244.4"><stop offset="0.00000" stop-color="#9e0008"/><stop offset="0.10667" stop-color="#9e0008"/><stop offset="0.10667" stop-color="#d2000c"/><stop offset="0.27238" stop-color="#d2000c"/><stop offset="0.27238" stop-color="#f8955a"/><stop offset="0.33905" stop-color="#f8955a"/><stop offset="0.33905" stop-color="#08305c"/><stop offset="0.36762" stop-color="#08305c"/><stop offset="0.36762" stop-color="#1a6db3"/><stop offset="0.38190" stop-color="#1a6db3"/><stop offset="0.38190" stop-color="#1893cf"/><stop offset="0.42857" stop-color="#1893cf"/><stop offset="0.42857" stop-color="#4ea6d5"/><stop offset="0.70095" stop-color="#4ea6d5"/><stop offset="0.70095" stop-color="#9dc2e6"/><stop offset="0.73905" stop-color="#9dc2e6"/><stop offset="0.73905" stop-color="#d4d4ec"/><stop offset="1.00000" stop-color="#d4d4ec"/></linearGradient><rect x="437.08" y="139.40" width="4.7" height="105.00" fill="url(#g37)"/><linearGradient id="g38" gradientUnits="userSpaceOnUse" x1="0" y1="140.00" x2="0" y2="244.4"><stop offset="0.00000" stop-color="#9e0008"/><stop offset="0.10536" stop-color="#9e0008"/><stop offset="0.10536" stop-color="#d2000c"/><stop offset="0.30268" stop-color="#d2000c"/><stop offset="0.30268" stop-color="#f8955a"/><stop offset="0.35441" stop-color="#f8955a"/><stop offset="0.35441" stop-color="#08305c"/><stop offset="0.39847" stop-color="#08305c"/><stop offset="0.39847" stop-color="#1a6db3"/><stop offset="0.41111" stop-color="#1a6db3"/><stop offset="0.41111" stop-color="#1893cf"/><stop offset="0.44061" stop-color="#1893cf"/><stop offset="0.44061" stop-color="#4ea6d5"/><stop offset="0.70881" stop-color="#4ea6d5"/><stop offset="0.70881" stop-color="#9dc2e6"/><stop offset="0.75287" stop-color="#9dc2e6"/><stop offset="0.75287" stop-color="#d4d4ec"/><stop offset="1.00000" stop-color="#d4d4ec"/></linearGradient><rect x="448.06" y="140.00" width="4.7" height="104.40" fill="url(#g38)"/><linearGradient id="g39" gradientUnits="userSpaceOnUse" x1="0" y1="142.00" x2="0" y2="244.4"><stop offset="0.00000" stop-color="#9e0008"/><stop offset="0.12695" stop-color="#9e0008"/><stop offset="0.12695" stop-color="#d2000c"/><stop offset="0.32812" stop-color="#d2000c"/><stop offset="0.32812" stop-color="#f8955a"/><stop offset="0.39062" stop-color="#f8955a"/><stop offset="0.39062" stop-color="#08305c"/><stop offset="0.43945" stop-color="#08305c"/><stop offset="0.43945" stop-color="#1a6db3"/><stop offset="0.45117" stop-color="#1a6db3"/><stop offset="0.45117" stop-color="#1893cf"/><stop offset="0.47852" stop-color="#1893cf"/><stop offset="0.47852" stop-color="#4ea6d5"/><stop offset="0.72266" stop-color="#4ea6d5"/><stop offset="0.72266" stop-color="#9dc2e6"/><stop offset="0.77148" stop-color="#9dc2e6"/><stop offset="0.77148" stop-color="#d4d4ec"/><stop offset="1.00000" stop-color="#d4d4ec"/></linearGradient><rect x="459.02" y="142.00" width="4.7" height="102.40" fill="url(#g39)"/><linearGradient id="g40" gradientUnits="userSpaceOnUse" x1="0" y1="142.90" x2="0" y2="244.4"><stop offset="0.00000" stop-color="#9e0008"/><stop offset="0.11034" stop-color="#9e0008"/><stop offset="0.11034" stop-color="#d2000c"/><stop offset="0.31921" stop-color="#d2000c"/><stop offset="0.31921" stop-color="#f8955a"/><stop offset="0.36650" stop-color="#f8955a"/><stop offset="0.36650" stop-color="#08305c"/><stop offset="0.38719" stop-color="#08305c"/><stop offset="0.38719" stop-color="#1a6db3"/><stop offset="0.40197" stop-color="#1a6db3"/><stop offset="0.40197" stop-color="#1893cf"/><stop offset="0.44631" stop-color="#1893cf"/><stop offset="0.44631" stop-color="#4ea6d5"/><stop offset="0.75172" stop-color="#4ea6d5"/><stop offset="0.75172" stop-color="#9dc2e6"/><stop offset="0.78621" stop-color="#9dc2e6"/><stop offset="0.78621" stop-color="#d4d4ec"/><stop offset="1.00000" stop-color="#d4d4ec"/></linearGradient><rect x="470.00" y="142.90" width="4.7" height="101.50" fill="url(#g40)"/><linearGradient id="g41" gradientUnits="userSpaceOnUse" x1="0" y1="143.40" x2="0" y2="244.4"><stop offset="0.00000" stop-color="#9e0008"/><stop offset="0.12475" stop-color="#9e0008"/><stop offset="0.12475" stop-color="#d2000c"/><stop offset="0.27228" stop-color="#d2000c"/><stop offset="0.27228" stop-color="#f8955a"/><stop offset="0.33168" stop-color="#f8955a"/><stop offset="0.33168" stop-color="#08305c"/><stop offset="0.35545" stop-color="#08305c"/><stop offset="0.35545" stop-color="#1a6db3"/><stop offset="0.37030" stop-color="#1a6db3"/><stop offset="0.37030" stop-color="#1893cf"/><stop offset="0.44356" stop-color="#1893cf"/><stop offset="0.44356" stop-color="#4ea6d5"/><stop offset="0.72475" stop-color="#4ea6d5"/><stop offset="0.72475" stop-color="#9dc2e6"/><stop offset="0.76139" stop-color="#9dc2e6"/><stop offset="0.76139" stop-color="#d4d4ec"/><stop offset="1.00000" stop-color="#d4d4ec"/></linearGradient><rect x="480.97" y="143.40" width="4.7" height="101.00" fill="url(#g41)"/><linearGradient id="g42" gradientUnits="userSpaceOnUse" x1="0" y1="144.20" x2="0" y2="244.4"><stop offset="0.00000" stop-color="#9e0008"/><stop offset="0.10279" stop-color="#9e0008"/><stop offset="0.10279" stop-color="#d2000c"/><stop offset="0.29441" stop-color="#d2000c"/><stop offset="0.29441" stop-color="#f8955a"/><stop offset="0.35329" stop-color="#f8955a"/><stop offset="0.35329" stop-color="#08305c"/><stop offset="0.37425" stop-color="#08305c"/><stop offset="0.37425" stop-color="#1a6db3"/><stop offset="0.38922" stop-color="#1a6db3"/><stop offset="0.38922" stop-color="#1893cf"/><stop offset="0.45509" stop-color="#1893cf"/><stop offset="0.45509" stop-color="#4ea6d5"/><stop offset="0.73253" stop-color="#4ea6d5"/><stop offset="0.73253" stop-color="#9dc2e6"/><stop offset="0.77146" stop-color="#9dc2e6"/><stop offset="0.77146" stop-color="#d4d4ec"/><stop offset="1.00000" stop-color="#d4d4ec"/></linearGradient><rect x="491.94" y="144.20" width="4.7" height="100.20" fill="url(#g42)"/><linearGradient id="g43" gradientUnits="userSpaceOnUse" x1="0" y1="148.80" x2="0" y2="244.4"><stop offset="0.00000" stop-color="#9e0008"/><stop offset="0.11506" stop-color="#9e0008"/><stop offset="0.11506" stop-color="#d2000c"/><stop offset="0.18828" stop-color="#d2000c"/><stop offset="0.18828" stop-color="#f8955a"/><stop offset="0.23117" stop-color="#f8955a"/><stop offset="0.23117" stop-color="#08305c"/><stop offset="0.25523" stop-color="#08305c"/><stop offset="0.25523" stop-color="#1a6db3"/><stop offset="0.26433" stop-color="#1a6db3"/><stop offset="0.26433" stop-color="#1893cf"/><stop offset="0.28556" stop-color="#1893cf"/><stop offset="0.28556" stop-color="#4ea6d5"/><stop offset="0.72280" stop-color="#4ea6d5"/><stop offset="0.72280" stop-color="#9dc2e6"/><stop offset="0.75314" stop-color="#9dc2e6"/><stop offset="0.75314" stop-color="#d4d4ec"/><stop offset="1.00000" stop-color="#d4d4ec"/></linearGradient><rect x="502.91" y="148.80" width="4.7" height="95.60" fill="url(#g43)"/><linearGradient id="g44" gradientUnits="userSpaceOnUse" x1="0" y1="149.30" x2="0" y2="244.4"><stop offset="0.00000" stop-color="#9e0008"/><stop offset="0.10200" stop-color="#9e0008"/><stop offset="0.10200" stop-color="#d2000c"/><stop offset="0.28181" stop-color="#d2000c"/><stop offset="0.28181" stop-color="#f8955a"/><stop offset="0.34595" stop-color="#f8955a"/><stop offset="0.34595" stop-color="#08305c"/><stop offset="0.37434" stop-color="#08305c"/><stop offset="0.37434" stop-color="#1a6db3"/><stop offset="0.39012" stop-color="#1a6db3"/><stop offset="0.39012" stop-color="#1893cf"/><stop offset="0.45110" stop-color="#1893cf"/><stop offset="0.45110" stop-color="#4ea6d5"/><stop offset="0.74132" stop-color="#4ea6d5"/><stop offset="0.74132" stop-color="#9dc2e6"/><stop offset="0.78023" stop-color="#9dc2e6"/><stop offset="0.78023" stop-color="#d4d4ec"/><stop offset="1.00000" stop-color="#d4d4ec"/></linearGradient><rect x="513.88" y="149.30" width="4.7" height="95.10" fill="url(#g44)"/><linearGradient id="g45" gradientUnits="userSpaceOnUse" x1="0" y1="150.90" x2="0" y2="244.4"><stop offset="0.00000" stop-color="#9e0008"/><stop offset="0.11230" stop-color="#9e0008"/><stop offset="0.11230" stop-color="#d2000c"/><stop offset="0.26203" stop-color="#d2000c"/><stop offset="0.26203" stop-color="#f8955a"/><stop offset="0.31230" stop-color="#f8955a"/><stop offset="0.31230" stop-color="#08305c"/><stop offset="0.34118" stop-color="#08305c"/><stop offset="0.34118" stop-color="#1a6db3"/><stop offset="0.35722" stop-color="#1a6db3"/><stop offset="0.35722" stop-color="#1893cf"/><stop offset="0.43316" stop-color="#1893cf"/><stop offset="0.43316" stop-color="#4ea6d5"/><stop offset="0.73048" stop-color="#4ea6d5"/><stop offset="0.73048" stop-color="#9dc2e6"/><stop offset="0.76471" stop-color="#9dc2e6"/><stop offset="0.76471" stop-color="#d4d4ec"/><stop offset="1.00000" stop-color="#d4d4ec"/></linearGradient><rect x="524.85" y="150.90" width="4.7" height="93.50" fill="url(#g45)"/><linearGradient id="g46" gradientUnits="userSpaceOnUse" x1="0" y1="154.90" x2="0" y2="244.4"><stop offset="0.00000" stop-color="#9e0008"/><stop offset="0.08939" stop-color="#9e0008"/><stop offset="0.08939" stop-color="#d2000c"/><stop offset="0.30503" stop-color="#d2000c"/><stop offset="0.30503" stop-color="#f8955a"/><stop offset="0.36648" stop-color="#f8955a"/><stop offset="0.36648" stop-color="#08305c"/><stop offset="0.40782" stop-color="#08305c"/><stop offset="0.40782" stop-color="#1a6db3"/><stop offset="0.42458" stop-color="#1a6db3"/><stop offset="0.42458" stop-color="#1893cf"/><stop offset="0.47933" stop-color="#1893cf"/><stop offset="0.47933" stop-color="#4ea6d5"/><stop offset="0.74413" stop-color="#4ea6d5"/><stop offset="0.74413" stop-color="#9dc2e6"/><stop offset="0.78994" stop-color="#9dc2e6"/><stop offset="0.78994" stop-color="#d4d4ec"/><stop offset="1.00000" stop-color="#d4d4ec"/></linearGradient><rect x="535.81" y="154.90" width="4.7" height="89.50" fill="url(#g46)"/>
<path d="M27.9 7.8 H543.5 V244.4" fill="none" stroke="#5c5c5c" stroke-width="1.4"/>
<path d="M27.95 7.1 V244.4" fill="none" stroke="#7a7a7a" stroke-width="1.9"/><path d="M27 244.4 H544.2" fill="none" stroke="#585858" stroke-width="1.3"/>
<text x="19.2" y="247.30" class="yt">0</text><text x="19.2" y="213.45" class="yt">1</text><text x="19.2" y="179.60" class="yt">2</text><text x="19.2" y="145.75" class="yt">3</text><text x="19.2" y="111.90" class="yt">4</text><text x="19.2" y="78.05" class="yt">5</text><text x="19.2" y="44.20" class="yt">6</text><text x="19.2" y="10.35" class="yt">7</text>
<text x="30.15" y="250.6" transform="rotate(90 30.15 250.6)" class="xl">Mie</text><text x="41.12" y="250.6" transform="rotate(90 41.12 250.6)" class="xl">Oita</text><text x="52.09" y="250.6" transform="rotate(90 52.09 250.6)" class="xl">Akita</text><text x="63.05" y="250.6" transform="rotate(90 63.05 250.6)" class="xl">Yamagata</text><text x="74.02" y="250.6" transform="rotate(90 74.02 250.6)" class="xl">Hokkaido</text><text x="84.99" y="250.6" transform="rotate(90 84.99 250.6)" class="xl">Niigata</text><text x="95.97" y="250.6" transform="rotate(90 95.97 250.6)" class="xl">Iwate</text><text x="106.94" y="250.6" transform="rotate(90 106.94 250.6)" class="xl">Tokushima</text><text x="117.91" y="250.6" transform="rotate(90 117.91 250.6)" class="xl">Shimane</text><text x="128.88" y="250.6" transform="rotate(90 128.88 250.6)" class="xl">Wakayama</text><text x="139.84" y="250.6" transform="rotate(90 139.84 250.6)" class="xl">Aomori</text><text x="150.81" y="250.6" transform="rotate(90 150.81 250.6)" class="xl">Okayama</text><text x="161.78" y="250.6" transform="rotate(90 161.78 250.6)" class="xl">Miyagi</text><text x="172.75" y="250.6" transform="rotate(90 172.75 250.6)" class="xl">Ehime</text><text x="183.72" y="250.6" transform="rotate(90 183.72 250.6)" class="xl">Tokyo</text><text x="194.69" y="250.6" transform="rotate(90 194.69 250.6)" class="xl">Yamaguchi</text><text x="205.67" y="250.6" transform="rotate(90 205.67 250.6)" class="xl">Ibaraki</text><text x="216.64" y="250.6" transform="rotate(90 216.64 250.6)" class="xl">Ishikawa</text><text x="227.61" y="250.6" transform="rotate(90 227.61 250.6)" class="xl">Shizuoka</text><text x="238.58" y="250.6" transform="rotate(90 238.58 250.6)" class="xl">Fukushima</text><text x="249.55" y="250.6" transform="rotate(90 249.55 250.6)" class="xl">Chiba</text><text x="260.52" y="250.6" transform="rotate(90 260.52 250.6)" class="xl">Gunma</text><text x="271.49" y="250.6" transform="rotate(90 271.49 250.6)" class="xl">Tottori</text><text x="282.46" y="250.6" transform="rotate(90 282.46 250.6)" class="xl">Miyazaki</text><text x="293.43" y="250.6" transform="rotate(90 293.43 250.6)" class="xl">Kagawa</text><text x="304.40" y="250.6" transform="rotate(90 304.40 250.6)" class="xl">Kochi</text><text x="315.37" y="250.6" transform="rotate(90 315.37 250.6)" class="xl">Fukui</text><text x="326.34" y="250.6" transform="rotate(90 326.34 250.6)" class="xl">Nagasaki</text><text x="337.31" y="250.6" transform="rotate(90 337.31 250.6)" class="xl">Aichi</text><text x="348.28" y="250.6" transform="rotate(90 348.28 250.6)" class="xl">Shiga</text><text x="359.25" y="250.6" transform="rotate(90 359.25 250.6)" class="xl">Hiroshima</text><text x="370.22" y="250.6" transform="rotate(90 370.22 250.6)" class="xl">Yamanashi</text><text x="381.19" y="250.6" transform="rotate(90 381.19 250.6)" class="xl">Toyama</text><text x="392.16" y="250.6" transform="rotate(90 392.16 250.6)" class="xl">Hyogo</text><text x="403.13" y="250.6" transform="rotate(90 403.13 250.6)" class="xl">Nagano</text><text x="414.10" y="250.6" transform="rotate(90 414.10 250.6)" class="xl">Kumamoto</text><text x="425.07" y="250.6" transform="rotate(90 425.07 250.6)" class="xl">Kanagawa</text><text x="436.04" y="250.6" transform="rotate(90 436.04 250.6)" class="xl">Osaka</text><text x="447.01" y="250.6" transform="rotate(90 447.01 250.6)" class="xl">Kagoshima</text><text x="457.98" y="250.6" transform="rotate(90 457.98 250.6)" class="xl">Saga</text><text x="468.95" y="250.6" transform="rotate(90 468.95 250.6)" class="xl">Gifu</text><text x="479.92" y="250.6" transform="rotate(90 479.92 250.6)" class="xl">Tochigi</text><text x="490.89" y="250.6" transform="rotate(90 490.89 250.6)" class="xl">Saitama</text><text x="501.86" y="250.6" transform="rotate(90 501.86 250.6)" class="xl">Okinawa</text><text x="512.83" y="250.6" transform="rotate(90 512.83 250.6)" class="xl">Fukuoka</text><text x="523.80" y="250.6" transform="rotate(90 523.80 250.6)" class="xl">Nara</text><text x="534.76" y="250.6" transform="rotate(90 534.76 250.6)" class="xl">Kyoto</text>
<rect x="248.6" y="14.85" width="5.2" height="5.1" fill="#d3d3ec"/><text x="256.1" y="19.95" class="lg" textLength="18.3" lengthAdjust="spacingAndGlyphs">Food</text><rect x="248.6" y="25.64" width="5.2" height="5.1" fill="#4ea7d6"/><text x="256.1" y="30.74" class="lg" textLength="38.0" lengthAdjust="spacingAndGlyphs">Electricity</text><rect x="248.6" y="36.43" width="5.2" height="5.1" fill="#1f6fb9"/><text x="256.1" y="41.53" class="lg" textLength="141.9" lengthAdjust="spacingAndGlyphs">Water supply and waste management</text><rect x="248.6" y="47.22" width="5.2" height="5.1" fill="#0b3362"/><text x="256.1" y="52.32" class="lg" textLength="134.2" lengthAdjust="spacingAndGlyphs">Medical service, and social security</text><rect x="248.6" y="58.01" width="5.2" height="5.1" fill="#f9694b"/><text x="256.1" y="63.11" class="lg" textLength="90.7" lengthAdjust="spacingAndGlyphs">Financial and insurance</text><rect x="248.6" y="68.80" width="5.2" height="5.1" fill="#cf0010"/><text x="256.1" y="73.90" class="lg" textLength="57.0" lengthAdjust="spacingAndGlyphs">Transportation</text><rect x="404.1" y="14.85" width="5.1" height="5.1" fill="#a7c3e6"/><text x="411.7" y="19.95" class="lg" textLength="39.4" lengthAdjust="spacingAndGlyphs">Chemicals</text><rect x="404.1" y="25.64" width="5.1" height="5.1" fill="#1b8fcb"/><text x="411.7" y="30.74" class="lg" textLength="106.1" lengthAdjust="spacingAndGlyphs">Gas supply and heat supply</text><rect x="404.1" y="36.43" width="5.1" height="5.1" fill="#1567b2"/><text x="411.7" y="41.53" class="lg" textLength="38.3" lengthAdjust="spacingAndGlyphs">Education</text><rect x="404.1" y="47.22" width="5.1" height="5.1" fill="#f7925c"/><text x="411.7" y="52.32" class="lg" textLength="56.3" lengthAdjust="spacingAndGlyphs">Durable goods</text><rect x="404.1" y="58.01" width="5.1" height="5.1" fill="#f52a20"/><text x="411.7" y="63.11" class="lg" textLength="41.0" lengthAdjust="spacingAndGlyphs">Real estate</text><rect x="404.1" y="68.80" width="5.1" height="5.1" fill="#9b0008"/><text x="411.7" y="73.90" class="lg" textLength="84.9" lengthAdjust="spacingAndGlyphs">Leisure Entertainment</text>
<text class="tt" x="285.8" y="304.2" text-anchor="middle">Prefecture</text>
<text class="tt" transform="rotate(-90 11.1 125.7)" x="11.1" y="125.7" text-anchor="middle">Per-household HCF: tCO<tspan font-size="6px" dy="2">2</tspan></text>
</svg>
</body></html>
